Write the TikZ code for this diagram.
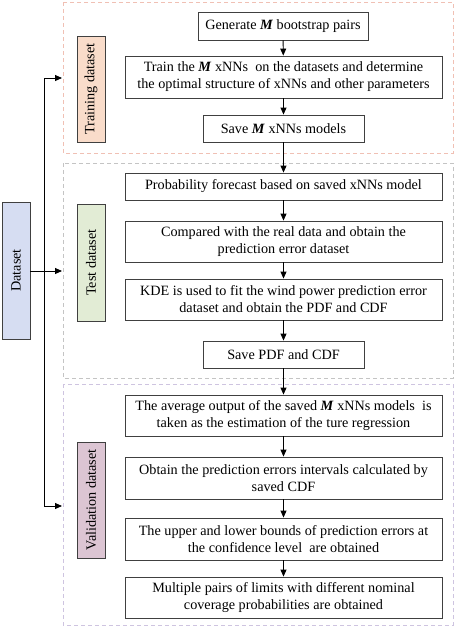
\documentclass[tikz,border=0pt]{standalone}
\usepackage{fontspec}
\setmainfont{Liberation Serif}
\usetikzlibrary{arrows.meta}
\definecolor{boxline}{HTML}{404040}
\definecolor{trainfill}{HTML}{F9DCCA}
\definecolor{testfill}{HTML}{E2ECD5}
\definecolor{validfill}{HTML}{DCC5D3}
\definecolor{datafill}{HTML}{D6DDF2}
\definecolor{traindash}{HTML}{F0C0B4}
\definecolor{testdash}{HTML}{C4C4C4}
\definecolor{validdash}{HTML}{CEC4E0}
\newcommand{\MM}{\textbf{\textit{M}}}
\tikzset{
  stepbox/.style={draw=boxline, line width=0.9pt, fill=white, align=center, inner sep=2pt,
    font=\fontsize{14.2}{17}\selectfont},
  labelbox/.style={draw=boxline, line width=0.9pt, rotate=90, inner sep=0pt,
    font=\fontsize{14.2}{17}\selectfont, minimum height=28pt},
  container/.style={line width=0.9pt, dash pattern=on 4pt off 3pt},
  flow/.style={line width=0.9pt, -{Triangle[length=7pt,width=6pt]}},
}
\begin{document}
\begin{tikzpicture}[x=1pt,y=-1pt]
\useasboundingbox (0,0) rectangle (457,627);
% containers
\draw[container, draw=traindash] (63,2) rectangle (453,153);
\draw[container, draw=testdash] (63,163) rectangle (453,378);
\draw[container, draw=validdash] (63,384) rectangle (453,625);
% label boxes
\node[labelbox, fill=trainfill, minimum width=106pt] (ltrain) at (91,89) {Training dataset};
\node[labelbox, fill=testfill, minimum width=117pt] (ltest) at (91,262.5) {Test dataset};
\node[labelbox, fill=validfill, minimum width=116pt] (lvalid) at (91,500) {Validation dataset};
\node[labelbox, fill=datafill, minimum width=137pt] (data) at (16,270.5) {Dataset};
% step boxes
\node[stepbox, minimum width=170pt, minimum height=28pt] (gen) at (283,26) {Generate \MM{} bootstrap pairs};
\node[stepbox, minimum width=317pt, minimum height=42pt] (train) at (283.5,77) {Train the \MM{} xNNs~ on the datasets and determine\\the optimal structure of xNNs and other parameters};
\node[stepbox, minimum width=161pt, minimum height=27pt] (savem) at (283.5,128.5) {Save \MM{} xNNs models};
\node[stepbox, minimum width=317pt, minimum height=27pt] (prob) at (283.5,186.5) {Probability forecast based on saved xNNs model};
\node[stepbox, minimum width=317pt, minimum height=41pt] (comp) at (283.5,241.5) {Compared with the real data and obtain the\\prediction error dataset};
\node[stepbox, minimum width=317pt, minimum height=41pt] (kde) at (283.5,299.5) {KDE is used to fit the wind power prediction error\\dataset and obtain the PDF and CDF};
\node[stepbox, minimum width=161pt, minimum height=27pt] (savepdf) at (283.5,354.5) {Save PDF and CDF};
\node[stepbox, minimum width=317pt, minimum height=41pt] (avg) at (283.5,415.5) {The average output of the saved \MM{} xNNs models~ is\\taken as the estimation of the ture regression};
\node[stepbox, minimum width=317pt, minimum height=42pt] (obt) at (283.5,478) {Obtain the prediction errors intervals calculated by\\saved CDF};
\node[stepbox, minimum width=317pt, minimum height=42pt] (upper) at (283.5,539) {The upper and lower bounds of prediction errors at\\the confidence level~ are obtained};
\node[stepbox, minimum width=317pt, minimum height=41pt] (multi) at (283.5,597.5) {Multiple pairs of limits with different nominal\\coverage probabilities are obtained};
% flow arrows
\draw[flow] (gen) -- (train);
\draw[flow] (train) -- (savem);
\draw[flow] (savem) -- (prob);
\draw[flow] (prob) -- (comp);
\draw[flow] (comp) -- (kde);
\draw[flow] (kde) -- (savepdf);
\draw[flow] (savepdf) -- (avg);
\draw[flow] (avg) -- (obt);
\draw[flow] (obt) -- (upper);
\draw[flow] (upper) -- (multi);
% dataset branches
\coordinate (ttop) at (44,78);
\coordinate (tbot) at (44,506);
\coordinate (etrain) at (62,78);
\coordinate (etest) at (62,271);
\coordinate (evalid) at (62,506);
\draw[line width=0.9pt] (ttop) -- (tbot);
\draw[flow] (ttop) -- (etrain);
\draw[flow] (data.south |- etest) -- (etest);
\draw[flow] (tbot) -- (evalid);
\end{tikzpicture}
\end{document}
